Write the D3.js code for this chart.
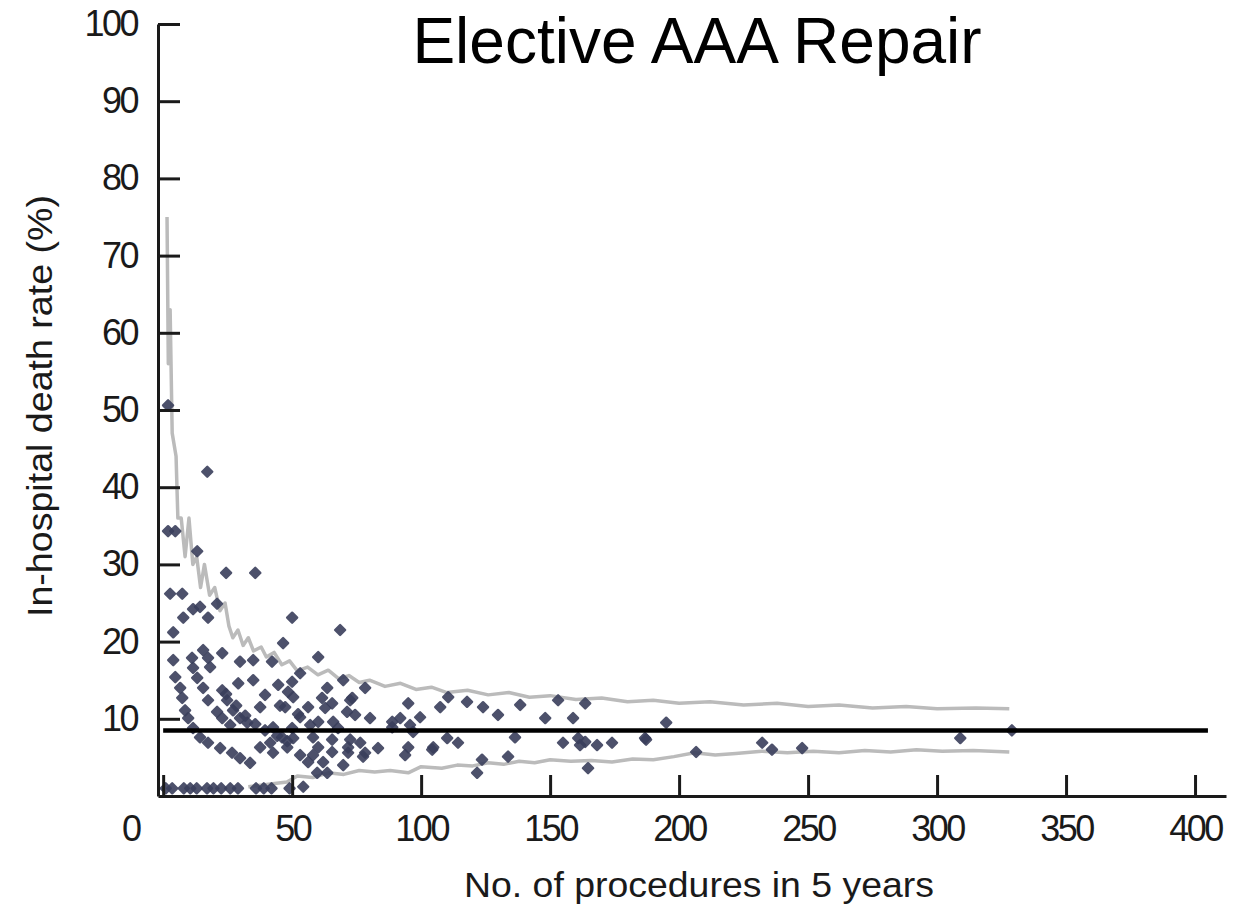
<!DOCTYPE html>
<html>
<head>
<meta charset="utf-8">
<script src="https://cdn.jsdelivr.net/npm/d3@7"></script>
<style>
  html, body { margin: 0; padding: 0; background: #ffffff; }
  svg { display: block; }
  text { font-family: "Liberation Sans", Arial, Helvetica, sans-serif; fill: #1a1a1a; }
</style>
</head>
<body>
<svg id="chart" width="1245" height="907"></svg>
<script>
// ---------------- data ----------------
const title = "Elective AAA Repair";
const xTitle = "No. of procedures in 5 years";
const yTitle = "In-hospital death rate (%)";

const xTickValues = [0, 50, 100, 150, 200, 250, 300, 350, 400];
const yTickValues = [10, 20, 30, 40, 50, 60, 70, 80, 90, 100];

// hospitals: number of procedures and in-hospital death rate (%)
const procedures = [
  1.9, 1.9, 4.7, 17.1, 13.2, 24.4, 35.7, 2.7, 7.4, 11.6, 7.8, 17.4, 20.9, 50, 68.6, 14.3,
  3.9, 15.5, 22.9, 17.4, 3.9, 11.2, 18.2, 11.6, 29.8, 34.9, 4.7, 13.2, 29.1, 34.9,
  6.6, 15.5, 22.9, 7.4, 17.4, 24.8, 37.6, 8.5, 20.9, 27.1, 9.7, 22.9, 29.8, 11.6,
  26.0, 32.6, 14.3, 17.4, 22.1, 26.7, 29.8, 33.7, 37.6, 41.5, 42.6, 24.4, 28.3,
  31.8, 35.7, 39.5, 44.2, 48.1, 39.5, 45.3, 52.3, 46.5, 48.1,
  1, 3.5, 8, 10.5, 13, 17, 19.5, 22.5, 26, 29, 36, 39, 42, 49,
  42.2, 60.1, 53.1, 50, 44.6, 78.3, 63.6, 48.4, 50.4, 61.6, 72.5, 65.5, 47.3, 56.2,
  62.8, 71.3, 53.1, 74.4, 80.2, 60.1, 65.9, 42.6, 50, 57, 67.8, 46.1, 50.4, 58.1,
  65.5, 72.5, 76.4, 83.3, 60.1, 65.5, 53.1, 58.1, 71.7, 78.3, 56.2, 62, 69.8, 59.7,
  63.6, 54.3, 69.8, 73.3, 95, 107.4, 110.5, 117.8, 124, 129.8, 138.4, 153.1, 163.6,
  148.1, 158.9, 91.9, 99.6, 95.7, 88.8, 96.9, 136.4, 155, 160.9, 163.6, 168.2, 174,
  114.3, 104.7, 110.1, 95, 93.8, 104.3, 71.7, 77.5, 123.6, 133.7, 121.7, 164.7, 88.8,
  186.8, 161.6, 195, 187.2, 206.6, 232.2, 236, 247.7, 309, 329
];
const deathRates = [
  50.6, 34.3, 34.3, 42.0, 31.7, 28.9, 28.9, 26.2, 26.2, 24.2, 23.1, 23.1, 24.9, 23.1, 21.5, 24.5,
  21.2, 18.9, 18.5, 17.9, 17.6, 17.9, 16.7, 16.6, 17.4, 17.6, 15.4, 15.3, 14.6, 15.0,
  14.0, 14.0, 13.7, 12.7, 12.4, 12.4, 11.5, 11.1, 10.9, 11.1, 10.1, 10.1, 10.1, 8.8,
  9.2, 9.5, 7.6, 6.9, 6.2, 5.6, 4.9, 4.3, 6.3, 6.9, 5.6, 13.2, 11.7,
  10.4, 9.3, 8.5, 7.8, 7.1, 13.1, 11.7, 10.6, 19.8, 6.3,
  1, 1, 1, 1, 1, 1, 1, 1, 1, 1, 1, 1, 1, 1,
  17.4, 18.0, 15.9, 14.8, 14.4, 14.0, 14.0, 13.5, 12.8, 12.7, 12.4, 12.0, 11.5, 11.5,
  11.4, 10.9, 10.2, 10.5, 10.1, 9.6, 9.6, 8.9, 8.8, 9.2, 8.8, 7.6, 7.5, 7.6,
  7.3, 7.3, 6.9, 6.2, 6.3, 5.7, 5.3, 5.3, 5.6, 5.6, 4.4, 4.4, 4.0, 3.0,
  3.0, 1.2, 15.0, 12.7, 12.0, 11.5, 12.8, 12.2, 11.5, 10.5, 11.8, 12.4, 12.0,
  10.1, 10.1, 10.1, 10.2, 9.2, 8.9, 8.3, 7.6, 6.9, 7.5, 7.0, 6.6, 6.9,
  6.9, 6.3, 7.5, 6.3, 5.3, 6.0, 6.3, 5.1, 4.7, 5.1, 3.0, 3.6, 9.6,
  7.5, 6.6, 9.5, 7.3, 5.7, 6.9, 6.0, 6.2, 7.5, 8.5
];

// upper and lower control limits (grey lines)
const upperN = [1.5, 2, 2.7, 3.5, 5, 5.7, 7, 8.5, 10, 11.5, 13, 14.5, 16, 18, 20, 22, 24, 25.5,
  27, 29, 31, 33, 35, 38, 40, 43, 46, 49, 52, 56, 60, 64, 68, 72, 76, 80, 86, 92, 98, 104,
  110, 118, 126, 134, 142, 150, 160, 170, 180, 190, 200, 212, 225, 238, 250, 262, 275, 288,
  300, 315, 328];
const upperRate = [75, 56, 63, 47, 44, 36, 36, 31, 36, 30, 31, 27, 30, 26, 27, 24, 25, 22,
  20.5, 21.5, 19.5, 20.5, 18.8, 19.3, 18, 18.6, 17, 17.5, 16.2, 16.7, 15.7, 16.3, 15.2, 15.6,
  14.7, 15, 14.2, 14.6, 13.8, 14.1, 13.4, 13.7, 13.1, 13.4, 12.8, 13.0, 12.5, 12.7, 12.2,
  12.4, 12.0, 12.2, 11.8, 12.0, 11.6, 11.8, 11.4, 11.6, 11.3, 11.4, 11.3];
const lowerN = [33, 40, 48, 52, 58, 64, 70, 76, 82, 88, 95, 100, 108, 114, 120, 126, 132,
  138, 144, 150, 158, 166, 174, 182, 190, 198, 206, 214, 222, 232, 242, 252, 262, 272, 282,
  292, 302, 314, 328];
const lowerRate = [1.2, 1.5, 1.8, 2.6, 2.4, 3.0, 2.8, 3.3, 3.1, 3.3, 3.0, 3.8, 3.6, 4.0,
  3.9, 4.3, 4.1, 4.5, 4.3, 4.7, 4.5, 4.6, 4.4, 4.8, 4.7, 5.1, 5.6, 5.3, 5.5, 5.8, 5.6, 5.8,
  5.6, 5.9, 5.7, 6.0, 5.8, 5.9, 5.7];

// overall (benchmark) death rate
const benchmarkN = [0, 405];
const benchmarkRate = [8.5, 8.5];

// ---------------- drawing ----------------
const svg = d3.select("#chart");

const x = d3.scaleLinear().domain([-2, 412]).range([158, 1226]);
const y = d3.scaleLinear().domain([0, 100]).range([796, 24]);

const ink = "#1a1a1a";

// title
svg.append("text")
  .attr("x", 697).attr("y", 63)
  .attr("text-anchor", "middle")
  .style("font-size", "64px")
  .style("fill", "#000")
  .text(title);

// grey control limits
const line = d3.line().x(d => x(d[0])).y(d => y(d[1]));
svg.append("path")
  .datum(upperN.map((n, i) => [n, upperRate[i]]))
  .attr("d", line)
  .attr("fill", "none").attr("stroke", "#bbbbbb").attr("stroke-width", 3.5)
  .attr("stroke-linejoin", "round");
svg.append("path")
  .datum(lowerN.map((n, i) => [n, lowerRate[i]]))
  .attr("d", line)
  .attr("fill", "none").attr("stroke", "#bbbbbb").attr("stroke-width", 3.5)
  .attr("stroke-linejoin", "round");

// points
const sym = d3.symbol().type(d3.symbolSquare).size(50);
svg.append("g").selectAll("path")
  .data(procedures.map((n, i) => [n, deathRates[i]]))
  .join("path")
  .attr("d", sym)
  .attr("transform", d => `translate(${x(d[0])},${y(d[1])}) rotate(45)`)
  .attr("fill", "#3a3f5c")
  .attr("stroke", "#3a3f5c")
  .attr("stroke-width", 2.4)
  .attr("stroke-linejoin", "round")
  .attr("opacity", 0.9);

// benchmark line
svg.append("path")
  .datum(benchmarkN.map((n, i) => [n, benchmarkRate[i]]))
  .attr("d", line)
  .attr("fill", "none").attr("stroke", "#000").attr("stroke-width", 4.5);

// axes
const xAxis = d3.axisBottom(x)
  .tickValues(xTickValues)
  .tickSizeInner(-21)
  .tickSizeOuter(0)
  .tickPadding(19);
const gx = svg.append("g").attr("transform", `translate(0,${y(0)})`).call(xAxis);

const yAxis = d3.axisLeft(y)
  .tickValues(yTickValues)
  .tickSizeInner(-22)
  .tickSizeOuter(0)
  .tickPadding(21);
const gy = svg.append("g").attr("transform", `translate(${x(-2)},0)`).call(yAxis);

[gx, gy].forEach(g => {
  g.select(".domain").attr("stroke", ink).attr("stroke-width", 3);
  g.selectAll(".tick line").attr("stroke", ink).attr("stroke-width", 3);
  g.selectAll(".tick text")
    .style("font-size", "36px")
    .style("letter-spacing", "-2.5px")
    .attr("fill", ink)
    .attr("font-family", null);
});
gx.selectAll(".tick text").filter(d => d === 0).attr("dx", -33);

// axis titles
svg.append("text")
  .attr("x", 699).attr("y", 897)
  .attr("text-anchor", "middle")
  .style("font-size", "35px")
  .attr("textLength", 470)
  .attr("lengthAdjust", "spacingAndGlyphs")
  .text(xTitle);

svg.append("text")
  .attr("transform", "translate(52,406) rotate(-90)")
  .attr("text-anchor", "middle")
  .style("font-size", "35px")
  .attr("textLength", 422)
  .attr("lengthAdjust", "spacingAndGlyphs")
  .text(yTitle);
</script>
</body>
</html>
